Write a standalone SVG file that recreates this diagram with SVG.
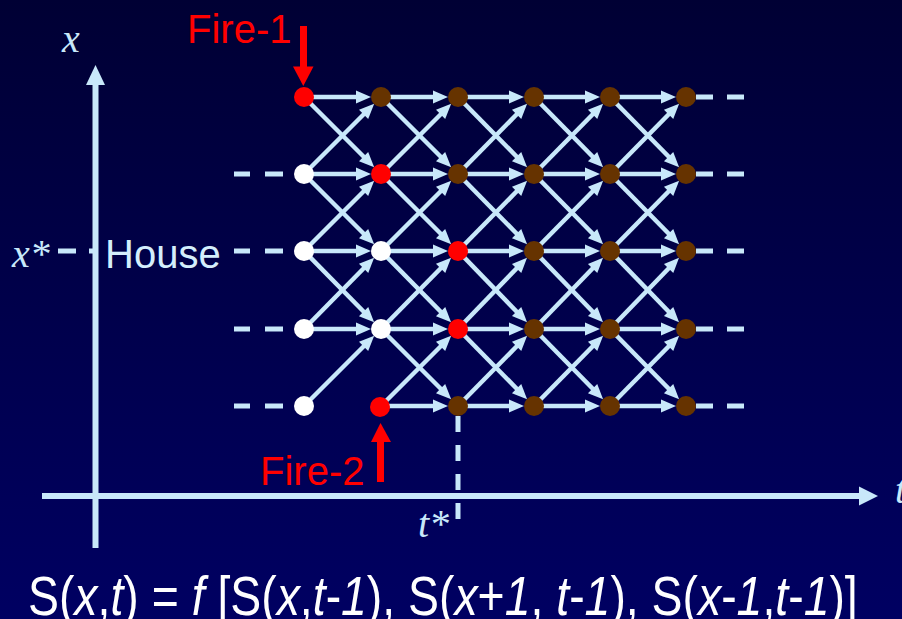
<svg xmlns="http://www.w3.org/2000/svg" width="902" height="619" viewBox="0 0 902 619">
<defs>
<linearGradient id="bg" x1="0" y1="0" x2="0" y2="1">
<stop offset="0" stop-color="#000034"/>
<stop offset="1" stop-color="#000062"/>
</linearGradient>
<marker id="ah" markerUnits="userSpaceOnUse" markerWidth="16" markerHeight="14" refX="2" refY="6.5" orient="auto" overflow="visible">
<path d="M0,0 L15,6.5 L0,13 z" fill="#c8e8fa"/>
</marker>
</defs>
<style>
.e{stroke:#c8e8fa;stroke-width:4.5;marker-end:url(#ah)}
.d{stroke:#c8e8fa;stroke-width:5}
.ax{stroke:#c8e8fa;stroke-width:6}
.axh{fill:#c8e8fa}
.red{fill:#ff0000}
.wht{fill:#ffffff}
.brn{fill:#663300}
.lbl{font-family:"Liberation Serif","Times New Roman",serif;font-style:italic;font-size:40px;fill:#c8e8fa}
.fire{font-family:"Liberation Sans",Arial,sans-serif;font-size:40px;fill:#ff0000}
.house{font-family:"Liberation Sans",Arial,sans-serif;font-size:40px;fill:#d4eefc}
.eq{font-family:"Liberation Sans",Arial,sans-serif;font-size:56px;fill:#ffffff}
.i{font-style:italic}
</style>
<rect x="0" y="0" width="902" height="619" fill="url(#bg)"/>

<g id="axes">
<line class="ax" x1="95.5" y1="548" x2="95.5" y2="83"/>
<polygon class="axh" points="86,85 95.5,65 105,85"/>
<line class="ax" x1="42" y1="496" x2="861" y2="496"/>
<polygon class="axh" points="859,486.5 878,496 859,505.5"/>
<text class="lbl" x="62" y="52">x</text>
<text class="lbl" x="895" y="503">t</text>
</g>

<g id="dashes">
<line class="d" x1="234" y1="174" x2="250" y2="174"/><line class="d" x1="265" y1="174" x2="283" y2="174"/>
<line class="d" x1="234" y1="251" x2="250" y2="251"/><line class="d" x1="265" y1="251" x2="283" y2="251"/>
<line class="d" x1="234" y1="329" x2="250" y2="329"/><line class="d" x1="265" y1="329" x2="283" y2="329"/>
<line class="d" x1="234" y1="406" x2="250" y2="406"/><line class="d" x1="265" y1="406" x2="283" y2="406"/>
<line class="d" x1="696" y1="97" x2="713" y2="97"/><line class="d" x1="727" y1="97" x2="744" y2="97"/>
<line class="d" x1="696" y1="174" x2="713" y2="174"/><line class="d" x1="727" y1="174" x2="744" y2="174"/>
<line class="d" x1="696" y1="251" x2="713" y2="251"/><line class="d" x1="727" y1="251" x2="744" y2="251"/>
<line class="d" x1="696" y1="329" x2="713" y2="329"/><line class="d" x1="727" y1="329" x2="744" y2="329"/>
<line class="d" x1="696" y1="406" x2="713" y2="406"/><line class="d" x1="727" y1="406" x2="744" y2="406"/>
<line class="d" x1="58" y1="251" x2="76" y2="251"/><line class="d" x1="89" y1="251" x2="95" y2="251"/>
<line class="d" x1="458" y1="416" x2="458" y2="520" stroke-dasharray="16 13"/>
</g>

<g id="labels">
<text class="lbl" x="12" y="267">x*</text>
<text class="house" x="105" y="268">House</text>
<text class="lbl" x="418" y="537">t*</text>
</g>

<g id="connectors">
<line class="e" x1="304" y1="97" x2="358" y2="97"/>
<line class="e" x1="304" y1="97" x2="365" y2="158"/>
<line class="e" x1="304" y1="174" x2="358" y2="174"/>
<line class="e" x1="304" y1="174" x2="365" y2="113"/>
<line class="e" x1="304" y1="174" x2="365" y2="235"/>
<line class="e" x1="304" y1="251" x2="358" y2="251"/>
<line class="e" x1="304" y1="251" x2="365" y2="190"/>
<line class="e" x1="304" y1="251" x2="365" y2="313"/>
<line class="e" x1="304" y1="329" x2="358" y2="329"/>
<line class="e" x1="304" y1="329" x2="365" y2="267"/>
<line class="e" x1="304" y1="406" x2="365" y2="345"/>

<line class="e" x1="381" y1="97" x2="435" y2="97"/>
<line class="e" x1="381" y1="97" x2="442" y2="158"/>
<line class="e" x1="381" y1="174" x2="435" y2="174"/>
<line class="e" x1="381" y1="174" x2="442" y2="113"/>
<line class="e" x1="381" y1="174" x2="442" y2="235"/>
<line class="e" x1="381" y1="251" x2="435" y2="251"/>
<line class="e" x1="381" y1="251" x2="442" y2="190"/>
<line class="e" x1="381" y1="251" x2="442" y2="313"/>
<line class="e" x1="381" y1="329" x2="435" y2="329"/>
<line class="e" x1="381" y1="329" x2="442" y2="267"/>
<line class="e" x1="381" y1="329" x2="442" y2="390"/>
<line class="e" x1="381" y1="406" x2="435" y2="406"/>
<line class="e" x1="381" y1="406" x2="442" y2="345"/>

<line class="e" x1="458" y1="97" x2="511" y2="97"/>
<line class="e" x1="458" y1="97" x2="518" y2="158"/>
<line class="e" x1="458" y1="174" x2="511" y2="174"/>
<line class="e" x1="458" y1="174" x2="518" y2="113"/>
<line class="e" x1="458" y1="174" x2="518" y2="235"/>
<line class="e" x1="458" y1="251" x2="511" y2="251"/>
<line class="e" x1="458" y1="251" x2="518" y2="190"/>
<line class="e" x1="458" y1="251" x2="518" y2="313"/>
<line class="e" x1="458" y1="329" x2="511" y2="329"/>
<line class="e" x1="458" y1="329" x2="518" y2="267"/>
<line class="e" x1="458" y1="329" x2="518" y2="390"/>
<line class="e" x1="458" y1="406" x2="511" y2="406"/>
<line class="e" x1="458" y1="406" x2="518" y2="345"/>

<line class="e" x1="534" y1="97" x2="587" y2="97"/>
<line class="e" x1="534" y1="97" x2="594" y2="158"/>
<line class="e" x1="534" y1="174" x2="587" y2="174"/>
<line class="e" x1="534" y1="174" x2="594" y2="113"/>
<line class="e" x1="534" y1="174" x2="594" y2="235"/>
<line class="e" x1="534" y1="251" x2="587" y2="251"/>
<line class="e" x1="534" y1="251" x2="594" y2="190"/>
<line class="e" x1="534" y1="251" x2="594" y2="313"/>
<line class="e" x1="534" y1="329" x2="587" y2="329"/>
<line class="e" x1="534" y1="329" x2="594" y2="267"/>
<line class="e" x1="534" y1="329" x2="594" y2="390"/>
<line class="e" x1="534" y1="406" x2="587" y2="406"/>
<line class="e" x1="534" y1="406" x2="594" y2="345"/>

<line class="e" x1="610" y1="97" x2="663" y2="97"/>
<line class="e" x1="610" y1="97" x2="670" y2="158"/>
<line class="e" x1="610" y1="174" x2="663" y2="174"/>
<line class="e" x1="610" y1="174" x2="670" y2="113"/>
<line class="e" x1="610" y1="174" x2="670" y2="235"/>
<line class="e" x1="610" y1="251" x2="663" y2="251"/>
<line class="e" x1="610" y1="251" x2="670" y2="190"/>
<line class="e" x1="610" y1="251" x2="670" y2="313"/>
<line class="e" x1="610" y1="329" x2="663" y2="329"/>
<line class="e" x1="610" y1="329" x2="670" y2="267"/>
<line class="e" x1="610" y1="329" x2="670" y2="390"/>
<line class="e" x1="610" y1="406" x2="663" y2="406"/>
<line class="e" x1="610" y1="406" x2="670" y2="345"/>
</g>

<g id="n-1-1"><circle class="red" cx="304" cy="97" r="10"/></g>
<g id="n-1-2"><circle class="wht" cx="304" cy="174" r="10"/></g>
<g id="n-1-3"><circle class="wht" cx="304" cy="251" r="10"/></g>
<g id="n-1-4"><circle class="wht" cx="304" cy="329" r="10"/></g>
<g id="n-1-5"><circle class="wht" cx="304" cy="406" r="10"/></g>
<g id="n-2-1"><circle class="brn" cx="381" cy="97" r="10"/></g>
<g id="n-2-2"><circle class="red" cx="381" cy="174" r="10"/></g>
<g id="n-2-3"><circle class="wht" cx="381" cy="251" r="10"/></g>
<g id="n-2-4"><circle class="wht" cx="381" cy="329" r="10"/></g>
<g id="n-2-5"><circle class="red" cx="380" cy="407" r="10"/></g>
<g id="n-3-1"><circle class="brn" cx="458" cy="97" r="10"/></g>
<g id="n-3-2"><circle class="brn" cx="458" cy="174" r="10"/></g>
<g id="n-3-3"><circle class="red" cx="458" cy="251" r="10"/></g>
<g id="n-3-4"><circle class="red" cx="458" cy="329" r="10"/></g>
<g id="n-3-5"><circle class="brn" cx="458" cy="406" r="10"/></g>
<g id="n-4-1"><circle class="brn" cx="534" cy="97" r="10"/></g>
<g id="n-4-2"><circle class="brn" cx="534" cy="174" r="10"/></g>
<g id="n-4-3"><circle class="brn" cx="534" cy="251" r="10"/></g>
<g id="n-4-4"><circle class="brn" cx="534" cy="329" r="10"/></g>
<g id="n-4-5"><circle class="brn" cx="534" cy="406" r="10"/></g>
<g id="n-5-1"><circle class="brn" cx="610" cy="97" r="10"/></g>
<g id="n-5-2"><circle class="brn" cx="610" cy="174" r="10"/></g>
<g id="n-5-3"><circle class="brn" cx="610" cy="251" r="10"/></g>
<g id="n-5-4"><circle class="brn" cx="610" cy="329" r="10"/></g>
<g id="n-5-5"><circle class="brn" cx="610" cy="406" r="10"/></g>
<g id="n-6-1"><circle class="brn" cx="686" cy="97" r="10"/></g>
<g id="n-6-2"><circle class="brn" cx="686" cy="174" r="10"/></g>
<g id="n-6-3"><circle class="brn" cx="686" cy="251" r="10"/></g>
<g id="n-6-4"><circle class="brn" cx="686" cy="329" r="10"/></g>
<g id="n-6-5"><circle class="brn" cx="686" cy="406" r="10"/></g>

<g id="fire-1">
<text class="fire" x="187" y="43">Fire-1</text>
<rect class="red" x="300" y="26" width="7" height="42"/>
<polygon class="red" points="293,66.5 313.5,66.5 303.3,86"/>
</g>
<g id="fire-2">
<text class="fire" x="260" y="485">Fire-2</text>
<rect class="red" x="377" y="440" width="7" height="42"/>
<polygon class="red" points="371,442 391,442 380.5,423"/>
</g>

<g id="formula">
<text class="eq" transform="translate(28,615) scale(0.828,1)" x="0" y="0">S(<tspan class="i">x</tspan>,<tspan class="i">t</tspan>) = <tspan class="i">f</tspan> [S(<tspan class="i">x</tspan>,<tspan class="i">t</tspan>-<tspan class="i">1</tspan>), S(<tspan class="i">x</tspan>+<tspan class="i">1</tspan>, <tspan class="i">t</tspan>-<tspan class="i">1</tspan>), S(<tspan class="i">x</tspan>-<tspan class="i">1</tspan>,<tspan class="i">t</tspan>-<tspan class="i">1</tspan>)]</text>
</g>
</svg>
